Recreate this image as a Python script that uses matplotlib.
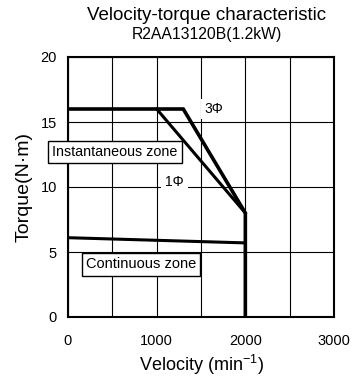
import matplotlib.pyplot as plt
from matplotlib.ticker import MultipleLocator

plt.rcParams['font.family'] = 'Liberation Sans'
plt.rcParams['mathtext.default'] = 'regular'

# curve data (velocity in min^-1, torque in N.m)
three_phase_x = [0, 1300, 2000, 2000]
three_phase_y = [16, 16, 8, 0]
single_phase_x = [1000, 2000]
single_phase_y = [16, 8]
continuous_x = [0, 2000]
continuous_y = [6.1, 5.7]

fig = plt.figure(figsize=(3.55, 3.77), dpi=100)
ax = fig.add_axes([68 / 355, 1 - 317 / 377, 266 / 355, 260 / 377])

ax.set_xlim(0, 3000)
ax.set_ylim(0, 20)
ax.xaxis.set_major_locator(MultipleLocator(1000))
ax.xaxis.set_minor_locator(MultipleLocator(500))
ax.yaxis.set_major_locator(MultipleLocator(5))
ax.grid(True, which='both', color='black', linewidth=0.8)
ax.set_axisbelow(True)
ax.tick_params(which='both', length=0, labelsize=10.5)
ax.tick_params(axis='x', pad=12)
ax.tick_params(axis='y', pad=8)
for s in ax.spines.values():
    s.set_linewidth(1.5)

ax.plot(three_phase_x, three_phase_y, color='black', lw=2.6, solid_joinstyle='miter')
ax.plot(single_phase_x, single_phase_y, color='black', lw=2.2)
ax.plot(continuous_x, continuous_y, color='black', lw=2.2)

ax.text(1640, 16.0, '3Φ', fontsize=10, ha='center', va='center',
        bbox=dict(facecolor='white', edgecolor='none', pad=2))
ax.text(1200, 10.4, '1Φ', fontsize=10, ha='center', va='center',
        bbox=dict(facecolor='white', edgecolor='none', pad=3))
ax.text(530, 12.7, 'Instantaneous zone', fontsize=10.3, ha='center', va='center',
        bbox=dict(facecolor='white', edgecolor='black', lw=1, pad=3), clip_on=False)
ax.text(823, 4.05, 'Continuous zone', fontsize=10.5, ha='center', va='center',
        bbox=dict(facecolor='white', edgecolor='black', lw=1, pad=3))

ax.set_xlabel('Velocity (min$^{-1}$)', fontsize=13, labelpad=4)
ax.set_ylabel('Torque(N·m)', fontsize=14, labelpad=6)

fig.text(207 / 355, 1 - 16 / 377, 'Velocity-torque characteristic', fontsize=13.5,
         ha='center', va='center')
fig.text(207 / 355, 1 - 34 / 377, 'R2AA13120B(1.2kW)', fontsize=11.3,
         ha='center', va='center')

fig.savefig('out.png', dpi=100)
